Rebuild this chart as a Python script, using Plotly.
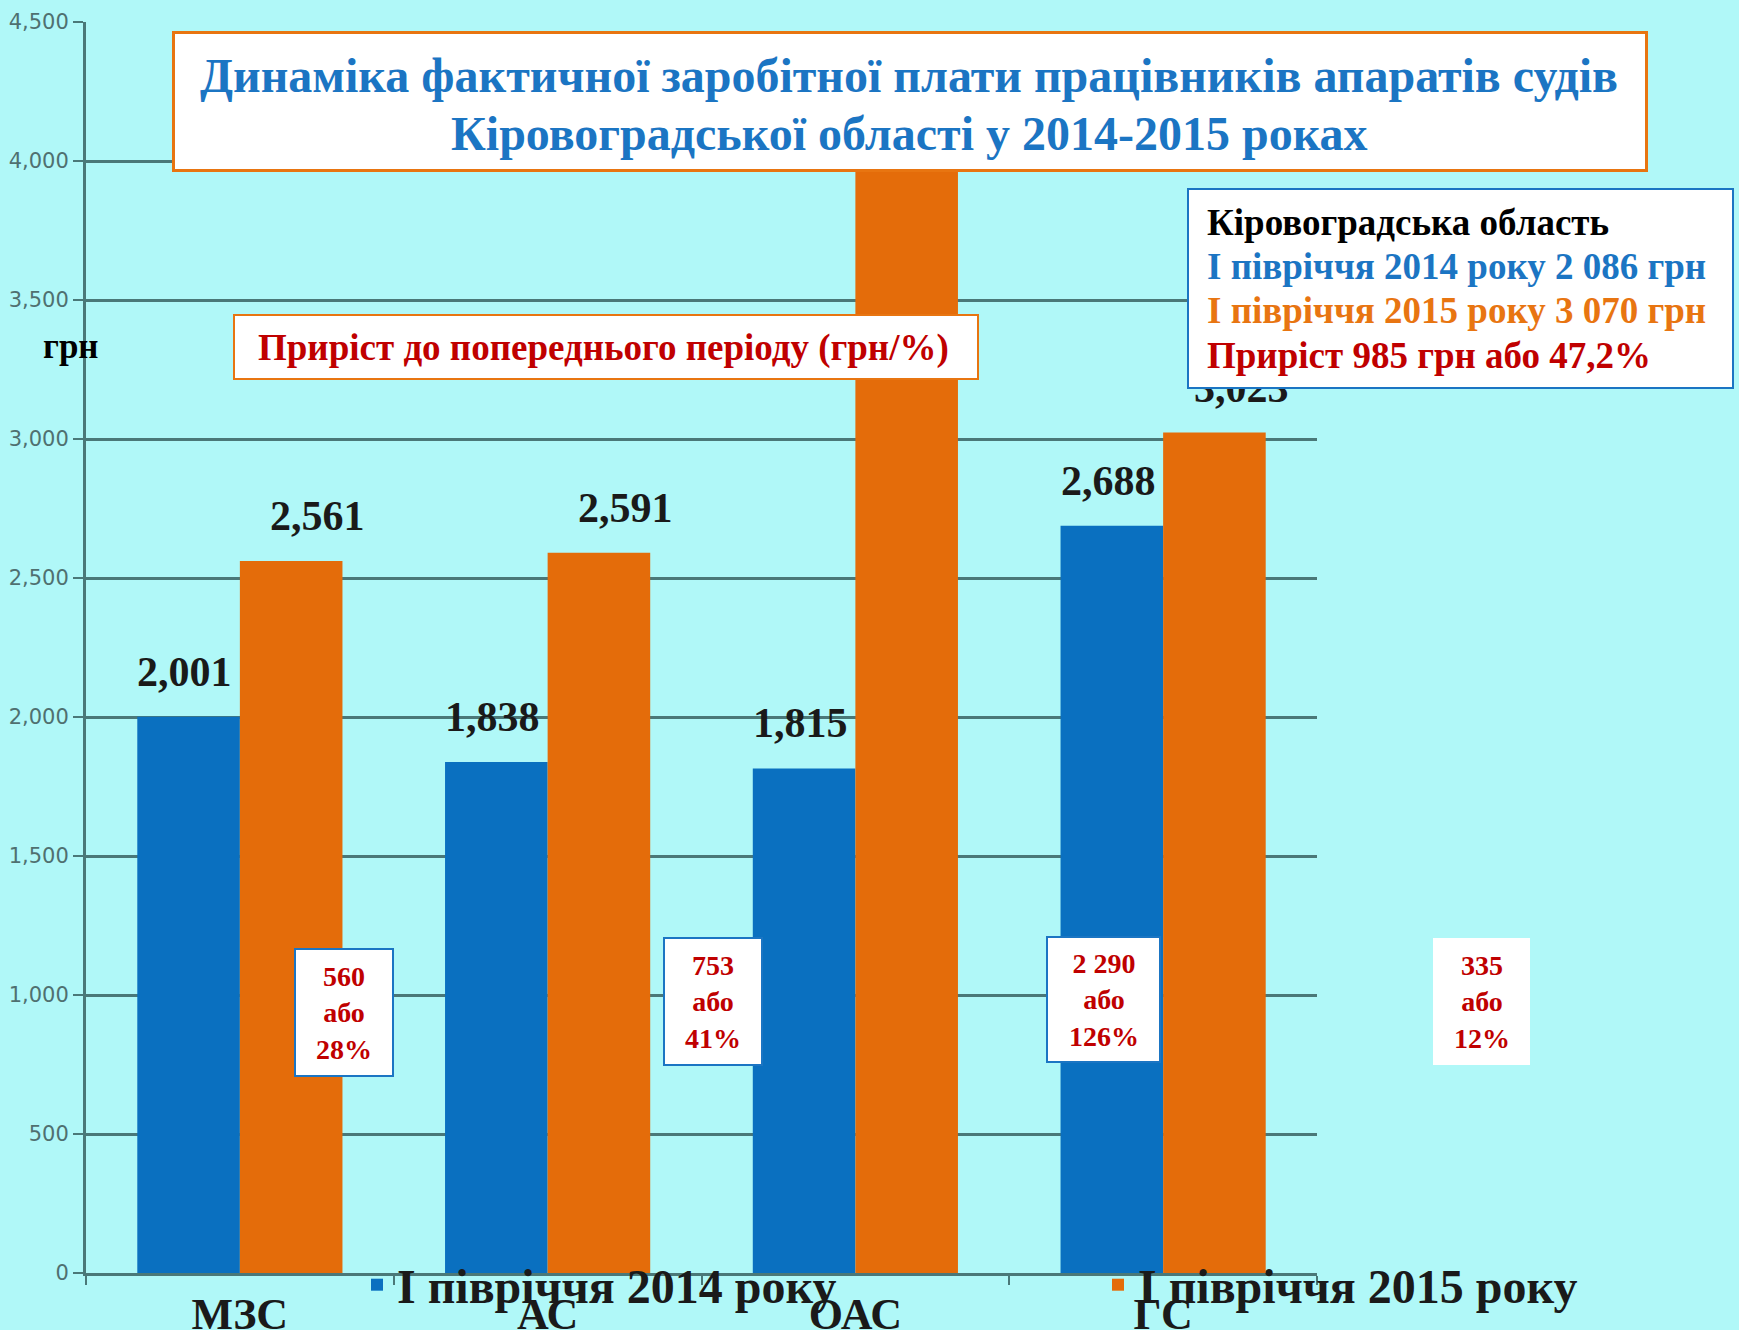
import plotly.graph_objects as go

categories = ["МЗС", "АС", "ОАС", "ГС"]
series_names = ["І півріччя 2014 року", "І півріччя 2015 року"]
salary_2014 = [2001, 1838, 1815, 2688]
salary_2015 = [2561, 2591, 4105, 3023]
growth_uah = ["560", "753", "2 290", "335"]
growth_pct = [28, 41, 126, 12]
y_ticks = [0, 500, 1000, 1500, 2000, 2500, 3000, 3500, 4000, 4500]

title_lines = ["Динаміка фактичної заробітної плати працівників апаратів судів",
               "Кіровоградської області у 2014-2015 роках"]
growth_caption = "Приріст до попереднього періоду (грн/%)"
region_lines = ["Кіровоградська область",
                "І півріччя 2014 року 2 086 грн",
                "І півріччя 2015 року 3 070 грн",
                "Приріст 985 грн або 47,2%"]
unit_label = "грн"

BG = "#B0F8F8"
BLUE = "#0A70C0"
ORANGE = "#E46C0A"
GRID = "#4A7878"
RED = "#C00000"
TBLUE = "#1B75C3"
TORANGE = "#E87511"
SERIF = "Liberation Serif"

W, H = 1739, 1330
L, R, T, B = 86, 422, 22, 57
PW, PH = W - L - R, H - T - B


def px(x):
    return (x - L) / PW


def py(y):
    return (H - B - y) / PH


fig = go.Figure()
fig.add_trace(go.Bar(x=categories, y=salary_2014, name=series_names[0],
                     marker=dict(color=BLUE, line=dict(width=0)), legend="legend"))
fig.add_trace(go.Bar(x=categories, y=salary_2015, name=series_names[1],
                     marker=dict(color=ORANGE, line=dict(width=0)), legend="legend2"))

ann = []
# data labels
for cat, v in zip(categories, salary_2014):
    ann.append(dict(x=cat, y=v, xref="x", yref="y", text=f"<b>{v:,}</b>", showarrow=False,
                    xshift=-55, yshift=20, yanchor="bottom",
                    font=dict(family=SERIF, size=42, color="#1a1a1a")))
for cat, v in zip(categories, salary_2015):
    ann.append(dict(x=cat, y=v, xref="x", yref="y", text=f"<b>{v:,}</b>", showarrow=False,
                    xshift=78, yshift=20, yanchor="bottom",
                    font=dict(family=SERIF, size=42, color="#1a1a1a")))


def box(x0, y0, x1, y1, bw, color):
    return dict(x=px((x0 + x1) / 2), y=py((y0 + y1) / 2), xref="paper", yref="paper",
                text=" ", showarrow=False, xanchor="center", yanchor="middle",
                width=x1 - x0 - bw, height=y1 - y0 - bw, borderpad=0, borderwidth=bw,
                bordercolor=color if bw else "white", bgcolor="white")


def label(x, y, text, size, color, xanchor="center", align="center"):
    return dict(x=px(x), y=py(y), xref="paper", yref="paper", text=text, showarrow=False,
                xanchor=xanchor, yanchor="middle", align=align,
                font=dict(family=SERIF, size=size, color=color))


# title box
ann.append(box(173, 33, 1646, 171, 3, TORANGE))
for yy, t in zip([75, 133], title_lines):
    ann.append(label(909, yy, f"<b>{t}</b>", 48, TBLUE))

# growth caption box
ann.append(box(234, 315, 978, 379, 2, TORANGE))
ann.append(label(603, 348, f"<b>{growth_caption}</b>", 37, RED))

# region box
ann.append(box(1188, 189, 1733, 388, 2, TBLUE))
region_colors = ["#000000", TBLUE, TORANGE, RED]
for yy, t, c in zip([222, 266, 310, 355], region_lines, region_colors):
    ann.append(label(1205, yy, f"<b>{t}</b>", 37, c, xanchor="left", align="left"))

# growth boxes
box_rects = [(295, 949, 393, 1076), (664, 938, 762, 1065), (1047, 937, 1160, 1062), (1433, 938, 1530, 1065)]
box_borders = [2, 2, 2, 0]
for (x0, y0, x1, y1), bb, g, p in zip(box_rects, box_borders, growth_uah, growth_pct):
    ann.append(box(x0, y0, x1, y1, bb, TBLUE))
    ann.append(label((x0 + x1) / 2, (y0 + y1) / 2, f"<b>{g}<br>або<br>{p}%</b>", 28, RED))

# unit label
ann.append(label(71, 346, f"<b>{unit_label}</b>", 35, "#000000"))

legend_font = dict(family=SERIF, size=48, color="#1a1a1a", weight="bold")
fig.update_layout(
    width=W, height=H,
    margin=dict(l=L, r=R, t=T, b=B, autoexpand=False),
    paper_bgcolor=BG, plot_bgcolor=BG,
    barmode="group", bargap=1/3, bargroupgap=0,
    annotations=ann,
    showlegend=True,
    legend=dict(orientation="h", x=px(357), y=py(1285), xanchor="left", yanchor="middle",
                bgcolor="rgba(0,0,0,0)", font=legend_font),
    legend2=dict(orientation="h", x=px(1098), y=py(1285), xanchor="left", yanchor="middle",
                 bgcolor="rgba(0,0,0,0)", font=legend_font),
)
fig.update_xaxes(type="category", tickson="boundaries", ticks="outside", ticklen=9,
                 tickwidth=2, tickcolor=GRID, showline=True, linecolor=GRID, linewidth=3,
                 showgrid=False, ticklabelstandoff=0,
                 tickfont=dict(family=SERIF, size=44, color="#1a1a1a", weight="bold"))
fig.update_yaxes(range=[0, 4500], tickvals=y_ticks, tickformat=",", ticks="outside",
                 ticklen=10, tickwidth=2, tickcolor=GRID, showline=True, linecolor=GRID,
                 linewidth=3, showgrid=True, gridcolor=GRID, gridwidth=3, zeroline=False,
                 ticklabelstandoff=0,
                 tickfont=dict(family="DejaVu Sans", size=21, color="#4f7070"))

fig.write_html("out.html", config={"displayModeBar": False},
               post_script="document.body.style.margin='0px';document.body.style.overflow='hidden';")
